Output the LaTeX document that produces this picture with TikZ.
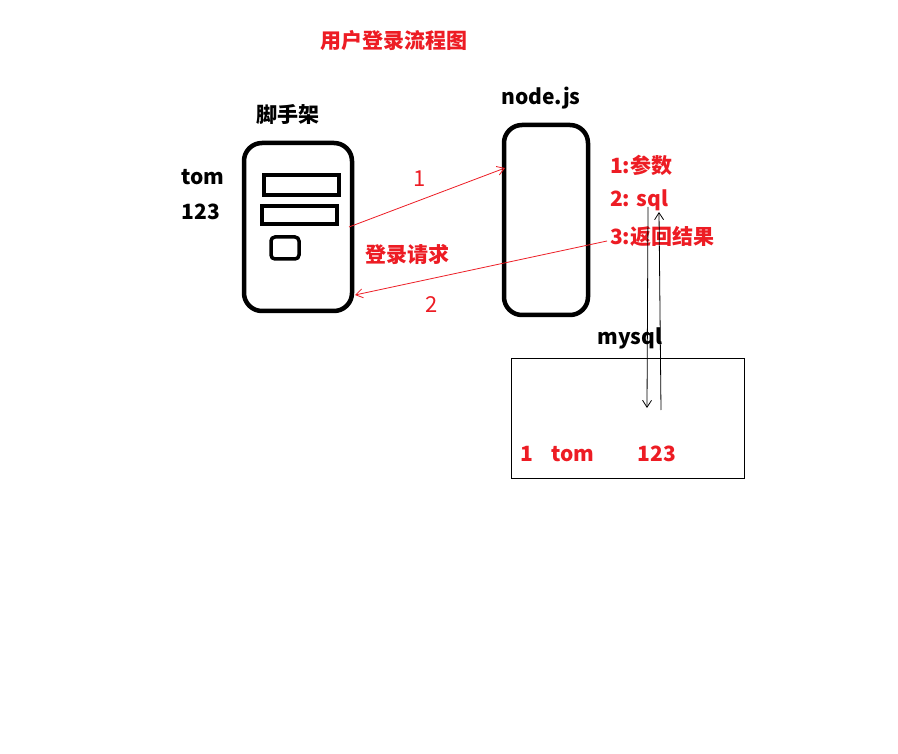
\documentclass[tikz,border=0pt]{standalone}
\usepackage{fontspec}
\setmainfont{Noto Sans CJK SC}
\usetikzlibrary{arrows.meta}
\definecolor{rd}{RGB}{237,28,36}
\tikzset{
  lbl/.style={font=\fontsize{21}{23}\selectfont\bfseries, inner sep=0pt, anchor=center},
  redlbl/.style={lbl, text=rd},
  hand/.style={font=\fontsize{22}{24}\selectfont, inner sep=0pt, text=rd},
  thickbox/.style={draw=black, line width=4.5pt, rounded corners=18pt},
  slot/.style={draw=black, line width=3.5pt},
  redarrow/.style={draw=rd, line width=0.8pt, -{Straight Barb[length=7pt,width=9pt]}},
  blkarrow/.style={draw=black, line width=0.8pt, -{Straight Barb[length=7pt,width=9pt]}},
}
\begin{document}
\begin{tikzpicture}[x=1pt,y=-1pt]
\useasboundingbox (0,0) rectangle (898,754);
\fill[white] (0,0) rectangle (898,754);

\node[redlbl] (title) at (394,41) {用户登录流程图};
\node[lbl] (sjj) at (288,115) {脚手架};
\node[lbl] (nodejs) at (541,98) {node.js};
\node[lbl] (tom) at (203,177) {tom};
\node[lbl] (pw) at (201,212) {123};

% scaffold box
\draw[thickbox] (244,143) rectangle (352,311);
\draw[slot] (264,175) rectangle (339,195);
\draw[slot] (262,206) rectangle (337,224);
\draw[slot, rounded corners=4pt] (271,237) rectangle (299,259);
\coordinate (cR1) at (349,227);
\coordinate (cR2) at (355,295);

% node.js box
\draw[thickbox] (504,125) rectangle (588,315);
\coordinate (nL1) at (505,168);
\coordinate (nS) at (607,241);

\draw[redarrow] (cR1) -- (nL1);
\draw[redarrow] (nS) -- (cR2);
\node[hand] (h1) at (420,179) {1};
\node[hand] (h2) at (432,305) {2};
\node[redlbl] (req) at (407,254) {登录请求};

\node[redlbl, anchor=west] (p1) at (610,165) {1:参数};
\node[redlbl, anchor=west] (p2) at (610,200) {2: sql};
\node[redlbl, anchor=west] (p3) at (610,237) {3:返回结果};

% mysql
\node[lbl] (mysql) at (630,338) {mysql};
\draw[black, line width=0.9pt] (511,358) rectangle (744,478);
\node[redlbl] (r1) at (527,454) {1};
\node[redlbl] (r2) at (573,454) {tom};
\node[redlbl] (r3) at (657,454) {123};

\coordinate (a1s) at (648,207);
\coordinate (a1e) at (647,408);
\coordinate (a2s) at (661,410);
\coordinate (a2e) at (659,212);
\draw[blkarrow] (a1s) -- (a1e);
\draw[blkarrow] (a2s) -- (a2e);
\end{tikzpicture}
\end{document}
